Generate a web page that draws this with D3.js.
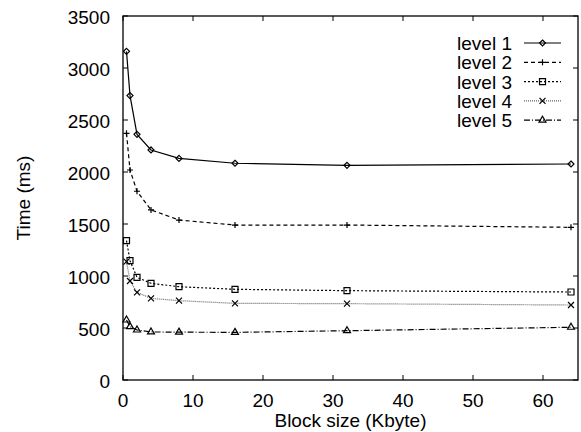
<!DOCTYPE html>
<html>
<head>
<meta charset="utf-8">
<script src="https://cdn.jsdelivr.net/npm/d3@7"></script>
<style>
  body { margin: 0; background: #fff; }
  svg { display: block; font-family: "Liberation Sans", Arial, sans-serif; }
</style>
</head>
<body>
<div id="chart"></div>
<script>
// block sizes (Kbyte)
const blockSizes = [0.5, 1, 2, 4, 8, 16, 32, 64];
// times (ms) per level
const level1 = [3160, 2735, 2362, 2212, 2131, 2084, 2064, 2077];
const level2 = [2372, 2019, 1815, 1635, 1538, 1490, 1490, 1468];
const level3 = [1340, 1147, 987, 930, 897, 872, 859, 846];
const level4 = [1138, 952, 843, 785, 763, 737, 734, 721];
const level5 = [577, 513, 481, 462, 460, 458, 474, 507];
const seriesNames = ["level 1", "level 2", "level 3", "level 4", "level 5"];
const xTicks = [0, 10, 20, 30, 40, 50, 60];
const yTicks = [0, 500, 1000, 1500, 2000, 2500, 3000, 3500];

const series = [level1, level2, level3, level4, level5];
// line look per level: dash pattern, colour, marker
const styles = [
    {dash: null, color: "#000", sym: "diamond"},
    {dash: "4,3", color: "#000", sym: "plus"},
    {dash: "2,2", color: "#000", sym: "square"},
    {dash: "1,1", color: "#666", sym: "cross"},
    {dash: "6,2,1,2", color: "#000", sym: "triangle"}
];

const W = 581, H = 432;
const margin = {top: 16, right: 3, bottom: 52, left: 123};
const width = W - margin.left - margin.right,
      height = H - margin.top - margin.bottom;
const fs = 19;

const svg = d3.select("#chart").append("svg")
    .attr("width", W).attr("height", H);
const g = svg.append("g")
    .attr("transform", "translate(" + margin.left + "," + margin.top + ")");

const x = d3.scaleLinear().domain([0, 65]).range([0, width]);
const y = d3.scaleLinear().domain([0, 3500]).range([height, 0]);

// draw a marker symbol at (cx, cy)
const drawSymbol = function(sel, sym, cx, cy) {
    const s = 3;
    let p;
    if (sym === "diamond") p = `M${cx},${cy-s}L${cx+s},${cy}L${cx},${cy+s}L${cx-s},${cy}Z`;
    else if (sym === "plus") p = `M${cx-s},${cy}H${cx+s}M${cx},${cy-s}V${cy+s}`;
    else if (sym === "square") p = `M${cx-s},${cy-s}H${cx+s}V${cy+s}H${cx-s}Z`;
    else if (sym === "cross") p = `M${cx-s},${cy-s}L${cx+s},${cy+s}M${cx+s},${cy-s}L${cx-s},${cy+s}`;
    else p = `M${cx},${cy-s-1}L${cx+s+0.5},${cy+s-1}L${cx-s-0.5},${cy+s-1}Z`;
    sel.append("path").attr("d", p)
        .attr("fill", "none").attr("stroke", "#000").attr("stroke-width", 1.2);
};

// ticks (inward, mirrored)
const tl = 5;
xTicks.forEach(t => {
    g.append("line").attr("x1", x(t)).attr("x2", x(t)).attr("y1", height).attr("y2", height - tl).attr("stroke", "#000");
    g.append("line").attr("x1", x(t)).attr("x2", x(t)).attr("y1", 0).attr("y2", tl).attr("stroke", "#000");
    g.append("text").attr("x", x(t)).attr("y", height + 27)
        .attr("text-anchor", "middle").attr("font-size", fs).text(t);
});
yTicks.forEach(t => {
    g.append("line").attr("x1", 0).attr("x2", tl).attr("y1", y(t)).attr("y2", y(t)).attr("stroke", "#000");
    g.append("line").attr("x1", width).attr("x2", width - tl).attr("y1", y(t)).attr("y2", y(t)).attr("stroke", "#000");
    g.append("text").attr("x", -13).attr("y", y(t) + 8)
        .attr("text-anchor", "end").attr("font-size", fs).text(t);
});

// frame
g.append("rect").attr("width", width).attr("height", height)
    .attr("fill", "none").attr("stroke", "#000").attr("stroke-width", 1.3);

// axis titles
svg.append("text").attr("x", margin.left + x(32.5)).attr("y", 427)
    .attr("text-anchor", "middle").attr("font-size", fs).text("Block size (Kbyte)");
svg.append("text").attr("transform", "translate(30," + (margin.top + height / 2) + ") rotate(-90)")
    .attr("text-anchor", "middle").attr("font-size", fs).text("Time (ms)");

// lines and markers
const line = d3.line().x((d, i) => x(blockSizes[i])).y(d => y(d));
series.forEach((vals, k) => {
    const st = styles[k];
    g.append("path").datum(vals).attr("d", line)
        .attr("fill", "none").attr("stroke", st.color).attr("stroke-width", 1.2)
        .attr("stroke-dasharray", st.dash);
    vals.forEach((v, i) => drawSymbol(g, st.sym, x(blockSizes[i]), y(v)));
});

// legend
const lg = svg.append("g");
seriesNames.forEach((name, k) => {
    const st = styles[k];
    const cy = 43 + k * 19.3;
    lg.append("text").attr("x", 512).attr("y", cy + 7)
        .attr("text-anchor", "end").attr("font-size", fs).text(name);
    lg.append("line").attr("x1", 524).attr("x2", 561).attr("y1", cy).attr("y2", cy)
        .attr("stroke", st.color).attr("stroke-width", 1.2).attr("stroke-dasharray", st.dash);
    drawSymbol(lg, st.sym, 542.5, cy);
});
</script>
</body>
</html>
